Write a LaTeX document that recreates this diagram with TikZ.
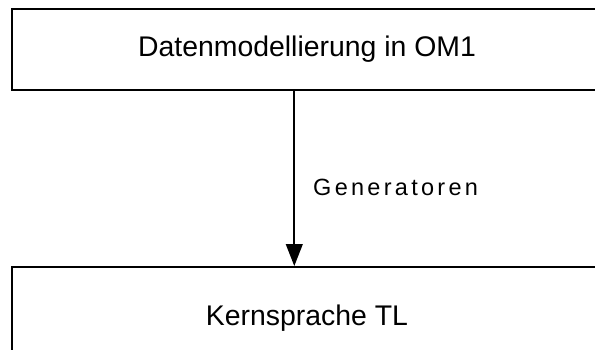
\documentclass[tikz,border=0pt]{standalone}
\usepackage{fontspec}
\setmainfont{Liberation Sans}
\newfontfamily\spacedfont[LetterSpace=14]{Liberation Sans}
\usetikzlibrary{arrows.meta}

\tikzset{
  box/.style={draw=black, line width=1.9pt, fill=white, inner sep=0pt,
    font=\fontsize{28.4}{34}\selectfont},
  flow/.style={line width=1.9pt, -{Triangle[length=22pt, width=16.7pt]}},
  flowlabel/.style={font=\spacedfont\fontsize{23.5}{28}\selectfont, inner sep=0pt, anchor=base west}
}

\begin{document}
\begin{tikzpicture}[x=1pt, y=-1pt]
  \useasboundingbox (0,0) rectangle (595,349);
  \clip (0,0) rectangle (595,349);
  \fill[white] (0,0) rectangle (595,349);

  % upper box: data modelling
  \node[box, minimum width=590pt, minimum height=81pt] (om) at (307,49.5)
    {Datenmodellierung in OM1};
  % lower box: core language
  \node[box, minimum width=590pt, minimum height=102pt] (tl) at (307,318)
    {Kernsprache TL};

  % generator arrow
  \draw[flow] ([xshift=-12.7pt]om.south) -- ([xshift=-12.7pt]tl.north);
  \node[flowlabel] (gen) at (313,195) {Generatoren};
\end{tikzpicture}
\end{document}
